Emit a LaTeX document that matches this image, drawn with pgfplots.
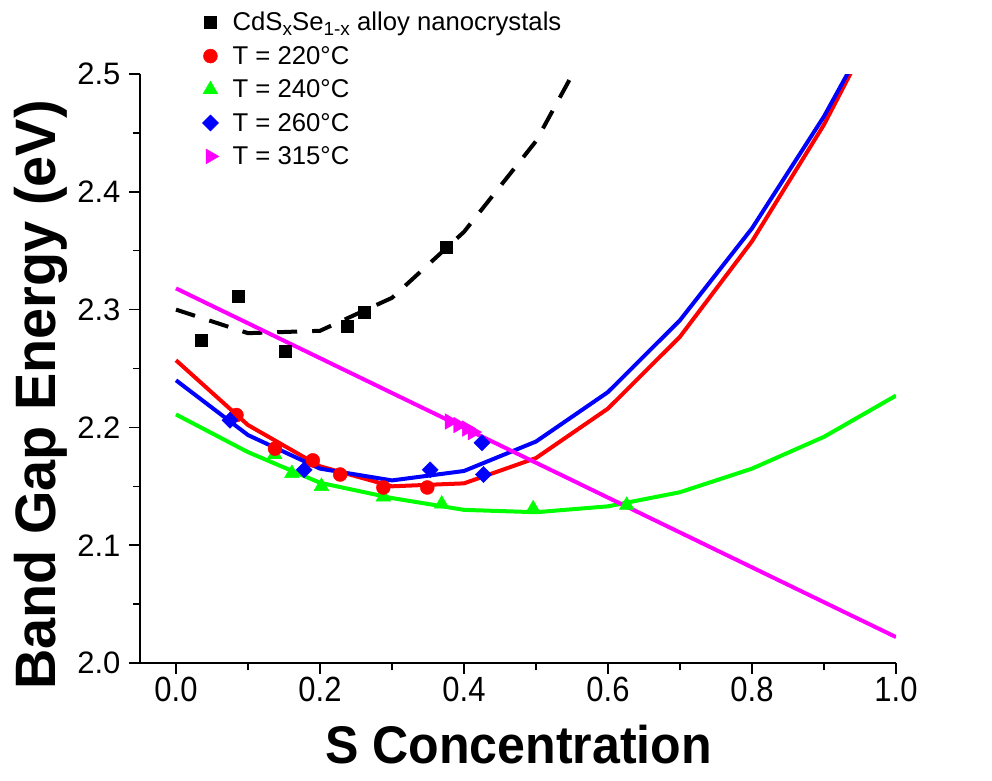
\documentclass[border=0pt]{standalone}
\usepackage{fontspec}
\setmainfont{Liberation Sans}
\usepackage{graphicx}
\usepackage{pgfplots}
\pgfplotsset{compat=1.18}
\definecolor{cred}{RGB}{255,0,0}
\definecolor{cgreen}{RGB}{0,255,0}
\definecolor{cblue}{RGB}{0,0,255}
\definecolor{cmag}{RGB}{255,0,255}
\begin{document}
\begin{tikzpicture}
\useasboundingbox (-140pt,-117pt) rectangle (852pt,663pt);
\begin{axis}[
  at={(0pt,0pt)}, anchor=south west,
  scale only axis, width=756pt, height=589pt,
  xmin=-0.05, xmax=1.0, ymin=2.0, ymax=2.5,
  axis lines=left, axis line style={-, line width=2pt, black},
  xtick={0,0.2,0.4,0.6,0.8,1.0},
  minor xtick={0.1,0.3,0.5,0.7,0.9},
  ytick={2.0,2.1,2.2,2.3,2.4,2.5},
  minor ytick={2.05,2.15,2.25,2.35,2.45},
  tick align=outside,
  major tick length=11pt, minor tick length=7pt,
  every tick/.style={line width=1.5pt, black},
  /pgf/number format/assume math mode=true,
  xticklabel={\scalebox{0.885}[1]{\pgfmathprintnumber[fixed,fixed zerofill,precision=1]{\tick}}},
  yticklabel={\pgfmathprintnumber[fixed,fixed zerofill,precision=1]{\tick}},
  xticklabel style={font=\fontsize{35}{40}\selectfont},
  yticklabel style={font=\fontsize{31}{36}\selectfont, xshift=-5pt},
  xlabel={\scalebox{0.945}[1]{\fontsize{53}{60}\selectfont\bfseries S Concentration}},
  xlabel style={at={(axis description cs:0.5007,-0.170)}, anchor=base},
  ylabel={\scalebox{0.98}[1]{\fontsize{57}{62}\selectfont\bfseries Band Gap Energy (eV)}},
  ylabel style={at={(axis description cs:-0.112,0.455)}, anchor=base},
  legend style={at={(axis description cs:0.0728,1.112)}, anchor=north west,
    draw=none, fill=none, font=\fontsize{25.7}{29}\selectfont, row sep=10pt},
  legend cell align=left,
  legend image code/.code={\draw[#1] plot coordinates {(0pt,0pt)}; \path (-12pt,0pt) (20pt,0pt);},
]
% legend entries
\addlegendimage{only marks, mark=square*, mark size=6pt, black}
\addlegendentry{CdS\raisebox{-5pt}{\fontsize{19}{20}\selectfont x}Se\raisebox{-5pt}{\fontsize{19}{20}\selectfont 1-x} alloy nanocrystals}
\addlegendimage{only marks, mark=*, mark size=7pt, cred}
\addlegendentry{T = 220°C}
\addlegendimage{only marks, mark=triangle*, mark size=8.5pt, cgreen}
\addlegendentry{T = 240°C}
\addlegendimage{only marks, mark=square*, mark size=5.7pt, cblue, mark options={rotate=45}}
\addlegendentry{T = 260°C}
\addlegendimage{only marks, mark=triangle*, mark size=8.5pt, cmag, mark options={rotate=-90}}
\addlegendentry{T = 315°C}

% green 240
\addplot[forget plot, cgreen, line width=4pt, no marks] coordinates {
(0,2.211) (0.1,2.179) (0.2,2.153) (0.3,2.140) (0.4,2.130) (0.5,2.128)
(0.6,2.133) (0.7,2.145) (0.8,2.165) (0.9,2.192) (1.0,2.227)};
\addplot[forget plot, only marks, mark=triangle*, mark size=8.5pt, cgreen] coordinates {
(0.137,2.177) (0.161,2.161) (0.202,2.150) (0.288,2.141) (0.369,2.135) (0.496,2.131) (0.626,2.134)};

% red 220
\addplot[forget plot, cred, line width=4pt, no marks] coordinates {
(0,2.257) (0.1,2.202) (0.2,2.167) (0.3,2.150) (0.4,2.1525) (0.5,2.174)
(0.6,2.216) (0.7,2.277) (0.8,2.358) (0.9,2.457) (1.0,2.575)};
\addplot[forget plot, only marks, mark=*, mark size=7pt, cred] coordinates {
(0.084,2.2105) (0.1375,2.182) (0.19,2.172) (0.228,2.160) (0.288,2.149) (0.349,2.149)};

% blue 260
\addplot[forget plot, cblue, line width=4pt, no marks] coordinates {
(0,2.240) (0.1,2.1935) (0.2,2.165) (0.3,2.155) (0.4,2.163) (0.5,2.188)
(0.6,2.230) (0.7,2.291) (0.8,2.369) (0.9,2.464) (1.0,2.575)};
\addplot[forget plot, only marks, mark=square*, mark size=5.7pt, cblue, mark options={rotate=45}] coordinates {
(0.075,2.206) (0.178,2.164) (0.353,2.164) (0.425,2.187) (0.427,2.160)};

% black alloy
\addplot[forget plot, black, line width=4pt, no marks, dash pattern=on 20pt off 15pt] coordinates {
(0,2.300) (0.1,2.280) (0.2,2.282) (0.3,2.310) (0.4,2.366) (0.5,2.443) (0.6,2.555)};
\addplot[forget plot, only marks, mark=square*, mark size=6pt, black] coordinates {
(0.035,2.274) (0.087,2.311) (0.152,2.265) (0.238,2.286) (0.261,2.298) (0.375,2.353)};

% magenta 315
\addplot[forget plot, cmag, line width=4pt, no marks] coordinates {
(0,2.318) (1.0,2.022)};
\addplot[forget plot, only marks, mark=triangle*, mark size=9pt, cmag, mark options={rotate=-90}] coordinates {
(0.380,2.205) (0.392,2.202) (0.404,2.199) (0.412,2.196)};
\end{axis}
\end{tikzpicture}
\end{document}
